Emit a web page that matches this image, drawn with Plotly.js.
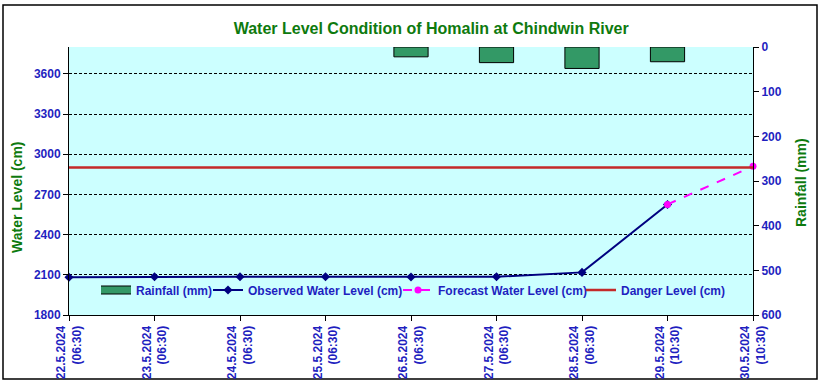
<!DOCTYPE html>
<html><head><meta charset="utf-8">
<script src="https://cdn.plot.ly/plotly-3.0.1.min.js"></script>
<style>html,body{margin:0;padding:0;background:#fff}#chart{width:826px;height:387px}</style>
</head><body><div id="chart"></div>
<script>
const dates = ["22.5.2024<br>(06:30)","23.5.2024<br>(06:30)","24.5.2024<br>(06:30)","25.5.2024<br>(06:30)","26.5.2024<br>(06:30)","27.5.2024<br>(06:30)","28.5.2024<br>(06:30)","29.5.2024<br>(10:30)","30.5.2024<br>(10:30)"];
const rainfall = [null,null,null,null,22,35,48,33,null];
const observed = [2082,2085,2086,2085,2084,2085,2118,2625,null];
const forecast = [null,null,null,null,null,null,null,2625,2910];
const danger = [2900,2900,2900,2900,2900,2900,2900,2900,2900];
const leftTicks = [1800,2100,2400,2700,3000,3300,3600];
const rightTicks = [0,100,200,300,400,500,600];

const blue = '#1f1fbf';
const green = '#0e7a0e';
const fam = 'Liberation Sans, Arial, sans-serif';
const tf = {family:fam, size:12, color:blue, weight:'bold'};

const traces = [
 {type:'bar', x:dates, y:rainfall, yaxis:'y2', name:'Rainfall (mm)', width:0.4, showlegend:false,
  marker:{color:'#339966', line:{color:'#000', width:1}}},
 // legend swatch for rainfall (outline + fill), no data
 {type:'scatter', mode:'lines', x:[null], y:[null], name:'Rainfall (mm)', legend:'legend', hoverinfo:'skip',
  line:{color:'#000000', width:9}},
 {type:'scatter', mode:'lines', x:[null], y:[null], name:'Rainfall (mm)', legend:'legend5', hoverinfo:'skip',
  line:{color:'#339966', width:7}},
 {type:'scatter', mode:'lines+markers', x:dates, y:observed, name:'Observed Water Level (cm)', legend:'legend2',
  line:{color:'#000080', width:2}, marker:{symbol:'diamond', size:7, color:'#000080'}, cliponaxis:false},
 {type:'scatter', mode:'lines+markers', x:dates, y:forecast, name:'Forecast Water Level (cm)', legend:'legend3',
  line:{color:'#ff00ff', width:2, dash:'dash'}, marker:{symbol:'circle', size:7, color:'#ff00ff'}, cliponaxis:false},
 {type:'scatter', mode:'lines', x:dates, y:danger, name:'Danger Level (cm)', legend:'legend4',
  line:{color:'#c42a2a', width:2.5}}
];

const px = v => (v-69)/684, py = v => (315-v)/268;
const legFont = {family:fam, size:12, color:blue, weight:'bold'};
const leg = (x, f) => ({orientation:'h', x:px(x), y:py(290), xanchor:'left', yanchor:'middle', bgcolor:'rgba(0,0,0,0)', font:f || legFont});

const layout = {
 width:826, height:387,
 margin:{l:69, r:73, t:47, b:72},
 paper_bgcolor:'#ffffff', plot_bgcolor:'#ccffff',
 showlegend:true,
 title:{text:'Water Level Condition of Homalin at Chindwin River', font:{family:fam, size:16, color:green, weight:'bold'}, x:0.522, xref:'container', y:1-28/387, yref:'container', xanchor:'center', yanchor:'middle'},
 xaxis:{type:'category', range:[0,8], tickangle:-90, tickfont:{family:fam, size:12, color:blue, weight:'bold'},
   showline:true, linecolor:'#000', linewidth:1, ticks:'outside', ticklen:5, tickcolor:'#000', showgrid:false, zeroline:false},
 yaxis:{range:[1800,3800], tickvals:leftTicks, ticktext:leftTicks.map(String), tickfont:tf, showline:true, linecolor:'#000', linewidth:1,
   ticks:'outside', ticklen:5, tickcolor:'#000', showgrid:true, gridcolor:'#000', griddash:'3px,2px', gridwidth:1, zeroline:false},
 yaxis2:{overlaying:'y', side:'right', range:[600,0], tickvals:rightTicks, ticktext:rightTicks.map(String), tickfont:tf,
   showline:true, linecolor:'#000', linewidth:1, ticks:'outside', ticklen:5, tickcolor:'#000', showgrid:false, zeroline:false},
 legend:leg(96, {family:fam, size:12, color:'rgba(0,0,0,0)', weight:'bold'}),
 legend2:leg(208), legend3:leg(398), legend4:leg(581),
 legend5:leg(96),
 annotations:[
  {text:'Water Level (cm)', xref:'paper', yref:'paper', x:px(17), y:py(197), textangle:-90, showarrow:false, xanchor:'center', yanchor:'middle',
   font:{family:fam, size:14, color:green, weight:'bold'}},
  {text:'Rainfall (mm)', xref:'paper', yref:'paper', x:px(801), y:py(183), textangle:-90, showarrow:false, xanchor:'center', yanchor:'middle',
   font:{family:fam, size:14, color:green, weight:'bold'}}
 ],
 shapes:[
  {type:'rect', xref:'paper', yref:'paper', x0:px(3), x1:px(817), y0:py(379), y1:py(5), line:{color:'#000', width:1.5}, fillcolor:'rgba(0,0,0,0)', layer:'below'}
 ]
};

Plotly.newPlot('chart', traces, layout, {displayModeBar:false, staticPlot:true});
</script>
</body></html>
